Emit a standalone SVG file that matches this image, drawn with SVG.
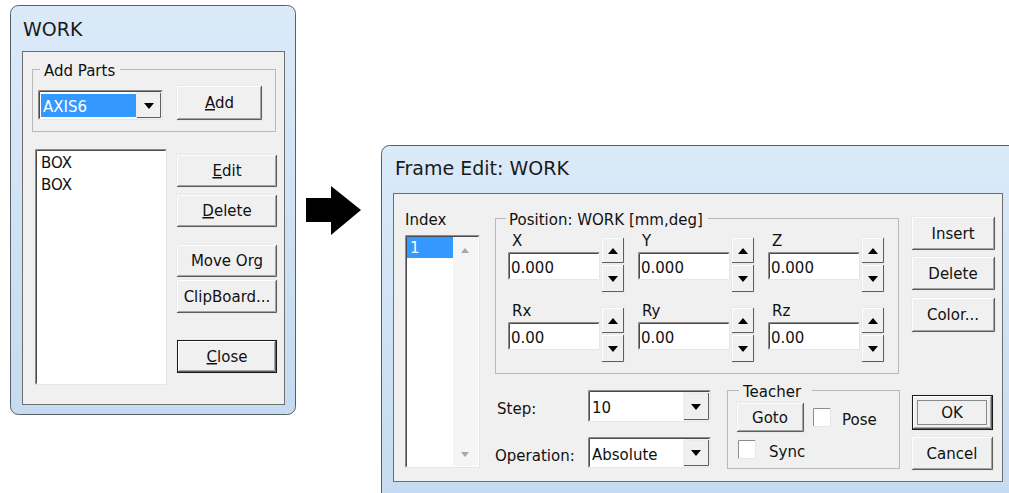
<svg xmlns="http://www.w3.org/2000/svg" width="1009" height="493" viewBox="0 0 1009 493">
<style>
text{font-family:"DejaVu Sans","Liberation Sans",sans-serif;font-size:15px;fill:#111}
.title{font-size:19px;fill:#1a1a1a}
.frame{fill:url(#fg);stroke:#5a5f66;stroke-width:1}
.client{fill:#f0f0f0;stroke:#6e6e6e;stroke-width:1}
.bf{fill:#f0f0f0;stroke:#e4e4e4;stroke-width:1}
.hl{fill:none;stroke:#ffffff;stroke-width:1}
.sd{fill:none;stroke:#5e5e5e;stroke-width:1}
.sd2{fill:none;stroke:#a3a3a3;stroke-width:1}
.def{fill:none;stroke:#1a1a1a;stroke-width:1}
.focus{fill:none;stroke:#222;stroke-width:1;stroke-dasharray:1 1}
.field{fill:#ffffff}
.sk{fill:none;stroke:#8c8c8c;stroke-width:1}
.sk2{fill:none;stroke:#4a4a4a;stroke-width:1}
.sl{fill:none;stroke:#e6e6e6;stroke-width:1}
.grp{fill:none;stroke:#b8b8b8;stroke-width:1}
.lblbg{fill:#f0f0f0}
.sel{fill:#3399ff}
.selt{fill:#ffffff}
.tri{fill:#000}
.gtri{fill:#a8a8a8}
.c{text-anchor:middle}
.u{text-decoration:underline}
</style>
<defs>
<linearGradient id="fg" x1="0" y1="0" x2="0" y2="1">
<stop offset="0" stop-color="#dbeaf9"/>
<stop offset="1" stop-color="#c5dbf1"/>
</linearGradient>
</defs>

<!-- Left window: WORK -->
<g id="work-window">
<rect class="frame" x="10.5" y="5.5" width="285" height="409" rx="8"/>
<text class="title" x="23" y="36">WORK</text>
<rect class="client" x="22.5" y="51.5" width="262" height="353"/>
</g>

<g id="add-parts-group">
<rect class="grp" x="32.5" y="69.5" width="243" height="62"/>
<rect class="lblbg" x="40" y="63" width="80" height="14"/>
<text x="44" y="76">Add Parts</text>
</g>

<g id="parts-combo">
<rect class="field" x="38" y="90" width="125" height="30"/>
<path class="sk" d="M38.5,119.5 V90.5 H162.5"/>
<path class="sk2" d="M39.5,118.5 V91.5 H161.5"/>
<path class="sl" d="M38.5,119.5 H162.5 V90.5"/>
<rect class="sel" x="41" y="94" width="95" height="23"/>
<text class="selt" x="43" y="112">AXIS6</text>
<rect class="bf" x="137" y="93" width="24" height="25"/>
<path class="sd" d="M160.5,93 V117.5 H137"/>
<polygon class="tri" points="144,103 154,103 149,109"/>
</g>

<g id="btn-add">
<rect class="bf" x="177" y="86" width="85" height="34"/>
<path class="hl" d="M177.5,119 V86.5 H261"/>
<path class="sd" d="M261.5,86 V119.5 H177"/>
<path class="sd2" d="M260.5,87 V118.5 H178"/>
<text class="c" x="219.5" y="108"><tspan class="u">A</tspan>dd</text>
</g>

<g id="parts-list">
<rect class="field" x="35" y="149" width="132" height="236"/>
<path class="sk" d="M35.5,384.5 V149.5 H166.5"/>
<path class="sk2" d="M36.5,383.5 V150.5 H165.5"/>
<path class="sl" d="M35.5,384.5 H166.5 V149.5"/>
<text x="41" y="168">BOX</text>
<text x="41" y="190">BOX</text>
</g>

<g id="btn-edit">
<rect class="bf" x="177" y="155" width="100" height="32"/>
<path class="hl" d="M177.5,186 V155.5 H276"/>
<path class="sd" d="M276.5,155 V186.5 H177"/>
<path class="sd2" d="M275.5,156 V185.5 H178"/>
<text class="c" x="227" y="176"><tspan class="u">E</tspan>dit</text>
</g>

<g id="btn-delete-left">
<rect class="bf" x="177" y="195" width="100" height="32"/>
<path class="hl" d="M177.5,226 V195.5 H276"/>
<path class="sd" d="M276.5,195 V226.5 H177"/>
<path class="sd2" d="M275.5,196 V225.5 H178"/>
<text class="c" x="227" y="216"><tspan class="u">D</tspan>elete</text>
</g>

<g id="btn-move-org">
<rect class="bf" x="177" y="245" width="100" height="32"/>
<path class="hl" d="M177.5,276 V245.5 H276"/>
<path class="sd" d="M276.5,245 V276.5 H177"/>
<path class="sd2" d="M275.5,246 V275.5 H178"/>
<text class="c" x="227" y="266">Move Org</text>
</g>

<g id="btn-clipboard">
<rect class="bf" x="177" y="280" width="100" height="33"/>
<path class="hl" d="M177.5,312 V280.5 H276"/>
<path class="sd" d="M276.5,280 V312.5 H177"/>
<path class="sd2" d="M275.5,281 V311.5 H178"/>
<text class="c" x="227" y="302">ClipBoard...</text>
</g>

<g id="btn-close">
<rect class="bf" x="177" y="340" width="100" height="33"/>
<rect class="def" x="177.5" y="340.5" width="99" height="32"/>
<path class="hl" d="M178.5,371 V341.5 H275"/>
<path class="sd" d="M275.5,341 V371.5 H178"/>
<path class="sd2" d="M274.5,342 V370.5 H179"/>
<text class="c" x="227" y="362"><tspan class="u">C</tspan>lose</text>
</g>

<!-- connector arrow -->
<g id="connectors">
<polygon fill="#000" points="306,198 331,198 331,186 361,210 331,235 331,222 306,222"/>
</g>

<!-- Right window: Frame Edit -->
<g id="frame-edit-window">
<rect class="frame" x="381.5" y="145.5" width="640" height="360" rx="8"/>
<text class="title" x="395" y="175">Frame Edit: WORK</text>
<rect class="client" x="393.5" y="193.5" width="609" height="288"/>
</g>

<g id="index-list">
<text x="405" y="225">Index</text>
<rect class="field" x="405" y="235" width="75" height="233"/>
<rect fill="#f5f5f5" x="453" y="237" width="25" height="229"/>
<path class="sk" d="M405.5,467.5 V235.5 H479.5"/>
<path class="sk2" d="M406.5,466.5 V236.5 H478.5"/>
<path class="sl" d="M405.5,467.5 H479.5 V235.5"/>
<rect class="sel" x="407" y="237" width="46" height="21"/>
<text class="selt" x="410" y="253">1</text>
<polygon class="gtri" points="461,253 469,253 465,248"/>
<polygon class="gtri" points="461,452 469,452 465,457"/>
</g>

<g id="position-group">
<rect class="grp" x="495.5" y="218.5" width="403" height="155"/>
<rect class="lblbg" x="506" y="211" width="202" height="14"/>
<text x="509" y="225">Position: WORK [mm,deg]</text>
</g>

<!-- X -->
<g id="field-x">
<text x="512" y="246">X</text>
<rect class="field" x="508" y="252" width="92" height="28"/>
<path class="sk" d="M508.5,279.5 V252.5 H599.5"/>
<path class="sk2" d="M509.5,278.5 V253.5 H598.5"/>
<path class="sl" d="M508.5,279.5 H599.5 V252.5"/>
<text x="511" y="273">0.000</text>
<rect class="bf" x="602" y="238" width="22" height="25"/>
<path class="hl" d="M602.5,262 V238.5 H623"/>
<path class="sd" d="M623.5,238 V262.5 H602"/>
<polygon class="tri" points="608,254 618,254 613,248"/>
<rect class="bf" x="602" y="265" width="22" height="27"/>
<path class="hl" d="M602.5,291 V265.5 H623"/>
<path class="sd" d="M623.5,265 V291.5 H602"/>
<polygon class="tri" points="608,276 618,276 613,282"/>
</g>

<!-- Y -->
<g id="field-y">
<text x="642" y="246">Y</text>
<rect class="field" x="638" y="252" width="92" height="28"/>
<path class="sk" d="M638.5,279.5 V252.5 H729.5"/>
<path class="sk2" d="M639.5,278.5 V253.5 H728.5"/>
<path class="sl" d="M638.5,279.5 H729.5 V252.5"/>
<text x="641" y="273">0.000</text>
<rect class="bf" x="732" y="238" width="22" height="25"/>
<path class="hl" d="M732.5,262 V238.5 H753"/>
<path class="sd" d="M753.5,238 V262.5 H732"/>
<polygon class="tri" points="738,254 748,254 743,248"/>
<rect class="bf" x="732" y="265" width="22" height="27"/>
<path class="hl" d="M732.5,291 V265.5 H753"/>
<path class="sd" d="M753.5,265 V291.5 H732"/>
<polygon class="tri" points="738,276 748,276 743,282"/>
</g>

<!-- Z -->
<g id="field-z">
<text x="772" y="246">Z</text>
<rect class="field" x="768" y="252" width="92" height="28"/>
<path class="sk" d="M768.5,279.5 V252.5 H859.5"/>
<path class="sk2" d="M769.5,278.5 V253.5 H858.5"/>
<path class="sl" d="M768.5,279.5 H859.5 V252.5"/>
<text x="771" y="273">0.000</text>
<rect class="bf" x="862" y="238" width="22" height="25"/>
<path class="hl" d="M862.5,262 V238.5 H883"/>
<path class="sd" d="M883.5,238 V262.5 H862"/>
<polygon class="tri" points="868,254 878,254 873,248"/>
<rect class="bf" x="862" y="265" width="22" height="27"/>
<path class="hl" d="M862.5,291 V265.5 H883"/>
<path class="sd" d="M883.5,265 V291.5 H862"/>
<polygon class="tri" points="868,276 878,276 873,282"/>
</g>

<!-- Rx -->
<g id="field-rx">
<text x="512" y="316">Rx</text>
<rect class="field" x="508" y="322" width="92" height="28"/>
<path class="sk" d="M508.5,349.5 V322.5 H599.5"/>
<path class="sk2" d="M509.5,348.5 V323.5 H598.5"/>
<path class="sl" d="M508.5,349.5 H599.5 V322.5"/>
<text x="511" y="343">0.00</text>
<rect class="bf" x="602" y="308" width="22" height="25"/>
<path class="hl" d="M602.5,332 V308.5 H623"/>
<path class="sd" d="M623.5,308 V332.5 H602"/>
<polygon class="tri" points="608,324 618,324 613,318"/>
<rect class="bf" x="602" y="335" width="22" height="27"/>
<path class="hl" d="M602.5,361 V335.5 H623"/>
<path class="sd" d="M623.5,335 V361.5 H602"/>
<polygon class="tri" points="608,346 618,346 613,352"/>
</g>

<!-- Ry -->
<g id="field-ry">
<text x="642" y="316">Ry</text>
<rect class="field" x="638" y="322" width="92" height="28"/>
<path class="sk" d="M638.5,349.5 V322.5 H729.5"/>
<path class="sk2" d="M639.5,348.5 V323.5 H728.5"/>
<path class="sl" d="M638.5,349.5 H729.5 V322.5"/>
<text x="641" y="343">0.00</text>
<rect class="bf" x="732" y="308" width="22" height="25"/>
<path class="hl" d="M732.5,332 V308.5 H753"/>
<path class="sd" d="M753.5,308 V332.5 H732"/>
<polygon class="tri" points="738,324 748,324 743,318"/>
<rect class="bf" x="732" y="335" width="22" height="27"/>
<path class="hl" d="M732.5,361 V335.5 H753"/>
<path class="sd" d="M753.5,335 V361.5 H732"/>
<polygon class="tri" points="738,346 748,346 743,352"/>
</g>

<!-- Rz -->
<g id="field-rz">
<text x="772" y="316">Rz</text>
<rect class="field" x="768" y="322" width="92" height="28"/>
<path class="sk" d="M768.5,349.5 V322.5 H859.5"/>
<path class="sk2" d="M769.5,348.5 V323.5 H858.5"/>
<path class="sl" d="M768.5,349.5 H859.5 V322.5"/>
<text x="771" y="343">0.00</text>
<rect class="bf" x="862" y="308" width="22" height="25"/>
<path class="hl" d="M862.5,332 V308.5 H883"/>
<path class="sd" d="M883.5,308 V332.5 H862"/>
<polygon class="tri" points="868,324 878,324 873,318"/>
<rect class="bf" x="862" y="335" width="22" height="27"/>
<path class="hl" d="M862.5,361 V335.5 H883"/>
<path class="sd" d="M883.5,335 V361.5 H862"/>
<polygon class="tri" points="868,346 878,346 873,352"/>
</g>

<g id="btn-insert">
<rect class="bf" x="912" y="217" width="83" height="33"/>
<path class="hl" d="M912.5,249 V217.5 H994"/>
<path class="sd" d="M994.5,217 V249.5 H912"/>
<path class="sd2" d="M993.5,218 V248.5 H913"/>
<text class="c" x="953" y="239">Insert</text>
</g>

<g id="btn-delete-right">
<rect class="bf" x="912" y="257" width="83" height="33"/>
<path class="hl" d="M912.5,289 V257.5 H994"/>
<path class="sd" d="M994.5,257 V289.5 H912"/>
<path class="sd2" d="M993.5,258 V288.5 H913"/>
<text class="c" x="953" y="279">Delete</text>
</g>

<g id="btn-color">
<rect class="bf" x="912" y="298" width="83" height="34"/>
<path class="hl" d="M912.5,331 V298.5 H994"/>
<path class="sd" d="M994.5,298 V331.5 H912"/>
<path class="sd2" d="M993.5,299 V330.5 H913"/>
<text class="c" x="953" y="320">Color...</text>
</g>

<g id="step-row">
<text x="497" y="414">Step:</text>
<rect class="field" x="588" y="390" width="123" height="32"/>
<path class="sk" d="M588.5,421.5 V390.5 H710.5"/>
<path class="sk2" d="M589.5,420.5 V391.5 H709.5"/>
<path class="sl" d="M588.5,421.5 H710.5 V390.5"/>
<text x="592" y="413">10</text>
<rect class="bf" x="684" y="393" width="25" height="27"/>
<path class="sd" d="M708.5,393 V419.5 H684"/>
<polygon class="tri" points="691,404 701,404 696,410"/>
</g>

<g id="operation-row">
<text x="495" y="461">Operation:</text>
<rect class="field" x="588" y="437" width="123" height="31"/>
<path class="sk" d="M588.5,467.5 V437.5 H710.5"/>
<path class="sk2" d="M589.5,466.5 V438.5 H709.5"/>
<path class="sl" d="M588.5,467.5 H710.5 V437.5"/>
<text x="592" y="460">Absolute</text>
<rect class="bf" x="684" y="440" width="25" height="26"/>
<path class="sd" d="M708.5,440 V465.5 H684"/>
<polygon class="tri" points="691,450 701,450 696,456"/>
</g>

<g id="teacher-group">
<rect class="grp" x="727.5" y="390.5" width="172" height="78"/>
<rect class="lblbg" x="739" y="383" width="73" height="14"/>
<text x="743" y="397">Teacher</text>
</g>

<g id="btn-goto">
<rect class="bf" x="737" y="403" width="67" height="29"/>
<path class="hl" d="M737.5,431 V403.5 H803"/>
<path class="sd" d="M803.5,403 V431.5 H737"/>
<path class="sd2" d="M802.5,404 V430.5 H738"/>
<text class="c" x="770" y="423">Goto</text>
</g>

<g id="chk-pose">
<rect class="field" x="813" y="408" width="18" height="19"/>
<path class="sk" d="M813.5,426.5 V408.5 H830.5"/>
<path class="sl" d="M813.5,426.5 H830.5 V408.5"/>
<text x="842" y="425">Pose</text>
</g>

<g id="chk-sync">
<rect class="field" x="738" y="440" width="18" height="19"/>
<path class="sk" d="M738.5,458.5 V440.5 H755.5"/>
<path class="sl" d="M738.5,458.5 H755.5 V440.5"/>
<text x="769" y="457">Sync</text>
</g>

<g id="btn-ok">
<rect class="bf" x="912" y="395" width="81" height="35"/>
<rect class="def" x="912.5" y="395.5" width="80" height="34"/>
<path class="hl" d="M913.5,428 V396.5 H991"/>
<path class="sd" d="M991.5,396 V428.5 H913"/>
<path class="sd2" d="M990.5,397 V427.5 H914"/>
<rect class="focus" x="917.5" y="400.5" width="69" height="24"/>
<text class="c" x="952" y="418">OK</text>
</g>

<g id="btn-cancel">
<rect class="bf" x="912" y="437" width="81" height="33"/>
<path class="hl" d="M912.5,469 V437.5 H992"/>
<path class="sd" d="M992.5,437 V469.5 H912"/>
<path class="sd2" d="M991.5,438 V468.5 H913"/>
<text class="c" x="952" y="459">Cancel</text>
</g>
</svg>
